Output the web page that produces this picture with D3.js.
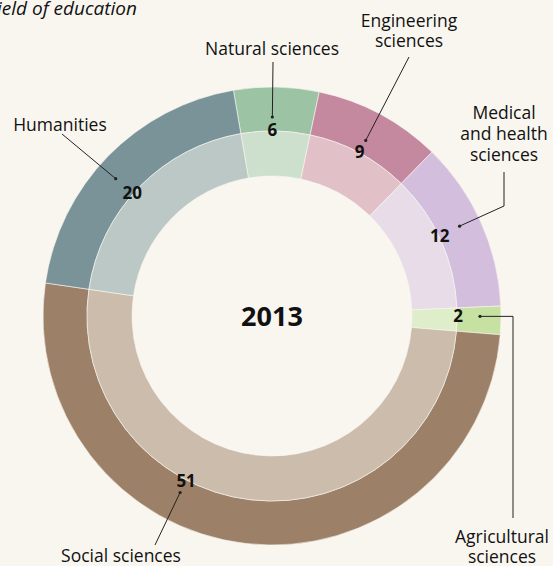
<!DOCTYPE html>
<html lang="en">
<head>
<meta charset="utf-8" />
<title>Field of education 2013</title>
<script src="https://d3js.org/d3.v7.min.js"></script>
<style>
    body { margin: 0; background: #f9f6f0; }
    svg text { font-family: "Open Sans", "Noto Sans", sans-serif; fill: #111; }
    .leader { fill: none; stroke: #222; stroke-width: 1; }
</style>
</head>
<body>
<svg width="553" height="566"></svg>
<script>
    // data, clockwise from the top
    var fields = ["Natural sciences", "Engineering sciences", "Medical and health sciences",
                  "Agricultural sciences", "Social sciences", "Humanities"];
    var shares = [6, 9, 12, 2, 51, 20];
    var darkColours  = ["#9cc3a4", "#c4899e", "#d4bedd", "#c6e1a1", "#9c8068", "#7a9399"];
    var lightColours = ["#cde0ce", "#e1c0c8", "#e8dce8", "#deedca", "#cbbcac", "#bbc8c6"];
    var year = "2013";
    var title = "field of education";

    // label layout (text lines, text position, where the leader starts, label angle shift)
    var labelLines = [["Natural sciences"], ["Engineering", "sciences"], ["Medical", "and health", "sciences"],
                      ["Agricultural", "sciences"], ["Social sciences"], ["Humanities"]];
    var labelPos  = [[272, 55], [409, 27], [504, 119], [502, 543], [121, 562], [60, 131]];
    var lineGap   = [20, 20, 21, 20, 20, 20];
    var leaderFrom = [[273, 62], [409, 57], [504, 172], [513, 518], [155, 545], [62, 134]];
    var angleShift = [-1, 0, -1.5, -1, 21, -3];   // degrees

    var svg = d3.select("svg"),
        cx = 272, cy = 316,
        rOuter = 229, rMid = 185, rInner = 140;

    svg.append("rect").attr("width", 553).attr("height", 566).attr("fill", "#f9f6f0");

    var start = -9.7 * Math.PI / 180;
    var pie = d3.pie().sort(null).startAngle(start).endAngle(start + 2 * Math.PI);
    var arcs = pie(shares);

    var outerArc = d3.arc().innerRadius(rMid).outerRadius(rOuter);
    var innerArc = d3.arc().innerRadius(rInner).outerRadius(rMid);

    var g = svg.append("g").attr("transform", "translate(" + cx + "," + cy + ")");

    g.selectAll("path.outer").data(arcs).enter().append("path")
        .attr("class", "outer")
        .attr("d", outerArc)
        .attr("fill", function (d, i) { return darkColours[i]; })
        .attr("stroke", "#f9f6f0").attr("stroke-width", 0.6);

    g.selectAll("path.inner").data(arcs).enter().append("path")
        .attr("class", "inner")
        .attr("d", innerArc)
        .attr("fill", function (d, i) { return lightColours[i]; })
        .attr("stroke", "#f9f6f0").attr("stroke-width", 0.6);

    function polar(a, r) {
        return [cx + r * Math.sin(a), cy - r * Math.cos(a)];
    }

    function midAngle(d, i) {
        return (d.startAngle + d.endAngle) / 2 + angleShift[i] * Math.PI / 180;
    }

    // leader lines and dots
    arcs.forEach(function (d, i) {
        var a = midAngle(d, i);
        var dot = polar(a, i === 0 || i === 1 || i === 4 ? 199 : 208);
        var pts = [leaderFrom[i]];
        if (i === 2) pts.push([leaderFrom[i][0], 206]);
        if (i === 3) pts.push([leaderFrom[i][0], dot[1]]);
        pts.push(dot);
        svg.append("path").attr("class", "leader").attr("d", d3.line()(pts));
        svg.append("circle").attr("cx", dot[0]).attr("cy", dot[1]).attr("r", 1.6).attr("fill", "#222");

        var num = polar(a, 186);
        svg.append("text")
            .attr("x", num[0]).attr("y", num[1] + 6)
            .attr("text-anchor", "middle")
            .attr("font-size", 17).attr("font-weight", "bold")
            .text(shares[i]);
    });

    // category labels
    fields.forEach(function (f, i) {
        var t = svg.append("text")
            .attr("text-anchor", "middle")
            .attr("font-size", 17.5);
        labelLines[i].forEach(function (line, j) {
            t.append("tspan").attr("x", labelPos[i][0]).attr("y", labelPos[i][1] + j * lineGap[i]).text(line);
        });
    });

    svg.append("text")
        .attr("x", cx).attr("y", cy + 10)
        .attr("text-anchor", "middle")
        .attr("font-size", 27).attr("font-weight", "bold")
        .text(year);

    svg.append("text")
        .attr("x", 137).attr("y", 15)
        .attr("text-anchor", "end")
        .attr("font-size", 19).attr("font-style", "italic")
        .text(title);
</script>
</body>
</html>
